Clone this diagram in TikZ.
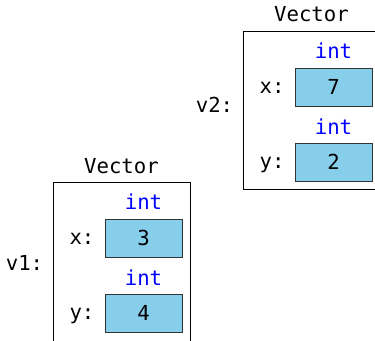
\documentclass[tikz,border=0pt]{standalone}
\usepackage{fontspec}
\setmonofont{DejaVu Sans Mono}
\usepackage{tikz}
\usetikzlibrary{positioning}
\definecolor{valfill}{RGB}{135,206,235}
\tikzset{
  objbox/.style={ draw=black, line width=0.75pt, minimum width=102.75pt, minimum height=118.5pt, inner sep=0pt }
}
\tikzset{
  valbox/.style={ draw=black!80, fill=valfill, line width=0.75pt, minimum width=57.75pt, minimum height=28.5pt, inner sep=0pt }
}
\tikzset{
  tname/.style={ text=blue, anchor=base, inner sep=0pt }
}
\tikzset{
  lbl/.style={ anchor=base, inner sep=0pt }
}

\begin{document}
\begin{tikzpicture}[x=0.75pt, y=-0.75pt, font=\ttfamily\fontsize{15.5}{18}\selectfont]
      \useasboundingbox (0,0) rectangle (375,340);
      \clip (0,0) rectangle (375,340);

      % first vector
      \node[objbox, minimum height=121.5pt] (obj1) at (121.5, 263) {};
      \node[lbl] (vec1) at (121.5, 173) {Vector};
      \node[lbl] (name1) at (24.5, 270) {v1:};
      \node[tname] (int1x) at (143.5, 209) {int};
      \node[lbl] (lbl1x) at (82, 244) {x:};
      \node[valbox] (val1x) at (143.5, 238) {3};
      \node[tname] (int1y) at (143.5, 285) {int};
      \node[lbl] (lbl1y) at (82, 319) {y:};
      \node[valbox] (val1y) at (143.5, 313) {4};

      % second vector
      \node[objbox] (obj2) at (311.5, 110) {};
      \node[lbl] (vec2) at (311.5, 21) {Vector};
      \node[lbl] (name2) at (214.5, 112) {v2:};
      \node[tname] (int2x) at (333.5, 58) {int};
      \node[lbl] (lbl2x) at (272, 93) {x:};
      \node[valbox] (val2x) at (333.5, 87) {7};
      \node[tname] (int2y) at (333.5, 134) {int};
      \node[lbl] (lbl2y) at (272, 168) {y:};
      \node[valbox] (val2y) at (333.5, 162) {2};
    \end{tikzpicture}
\end{document}
